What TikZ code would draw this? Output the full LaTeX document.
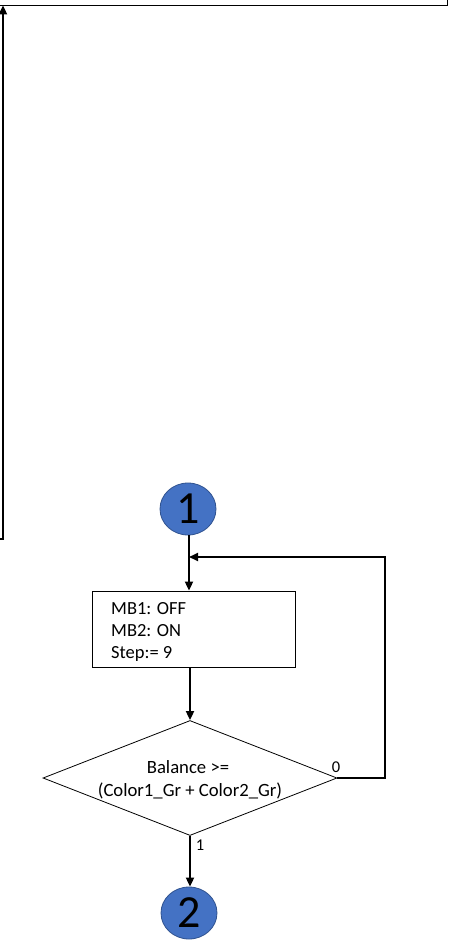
\documentclass[tikz,border=0pt]{standalone}
\usepackage{fontspec}
\setmainfont{Carlito}
\usetikzlibrary{shapes.geometric,arrows.meta}
\definecolor{circblue}{HTML}{4472C4}
\definecolor{circedge}{HTML}{2F528F}
\begin{document}
\begin{tikzpicture}[x=1pt,y=-1pt,
  conn/.style={line width=1.8pt,-{Triangle[length=9pt,width=8pt]}},
  boxst/.style={draw,line width=0.8pt,inner sep=0pt},
  circ/.style={ellipse,draw=circedge,line width=0.8pt,fill=circblue,minimum width=56pt,minimum height=52pt,inner sep=0pt,font=\fontsize{46}{46}\selectfont},
  btxt/.style={font=\fontsize{18.5}{22}\selectfont,inner sep=0pt,anchor=base west},
  dtxt/.style={font=\fontsize{18.7}{23}\selectfont,inner sep=0pt,anchor=base},
  lbl/.style={font=\fontsize{16.5}{16.5}\selectfont,inner sep=0pt,anchor=base}]
\useasboundingbox (0,0) rectangle (449,947);
\clip (0,0) rectangle (449,947);
\node[boxst,minimum width=452pt,minimum height=50pt] (top) at (221,-20) {};
\coordinate (lin) at (-10,539);
\coordinate (lup) at (3,539);
\draw[conn] (lin) -- (lup) -- (lup |- top.south);
\node[circ] (c1) at (188,509) {1};
\node[boxst,minimum width=203pt,minimum height=76pt] (box) at (193.5,629) {};
\node[btxt] (bt1) at (111,614.5) {MB1: OFF};
\node[btxt] (bt2) at (111,636.5) {MB2: ON};
\node[btxt] (bt3) at (111,658.5) {Step:= 9};
\node[diamond,draw,line width=0.8pt,minimum width=294pt,minimum height=115pt,inner sep=0pt] (dia) at (190,778) {};
\node[dtxt] (dt1) at (188,773.5) {Balance >=};
\node[dtxt] (dt2) at (190,796.5) {(Color1\_Gr + Color2\_Gr)};
\node[circ] (c2) at (189,913) {2};
\node[lbl] (l0) at (336,772) {0};
\node[lbl] (l1) at (200,850) {1};
\coordinate (fb) at (385,557);
\coordinate (join) at (189,557);
\draw[conn] (c1.south -| join) -- (join |- box.north);
\draw[conn] (dia.east) -- (dia.east -| fb) -- (fb) -- (join);
\draw[conn] (box.south -| dia.north) -- (dia.north);
\draw[conn] (dia.south) -- (dia.south |- c2.north);
\end{tikzpicture}
\end{document}
